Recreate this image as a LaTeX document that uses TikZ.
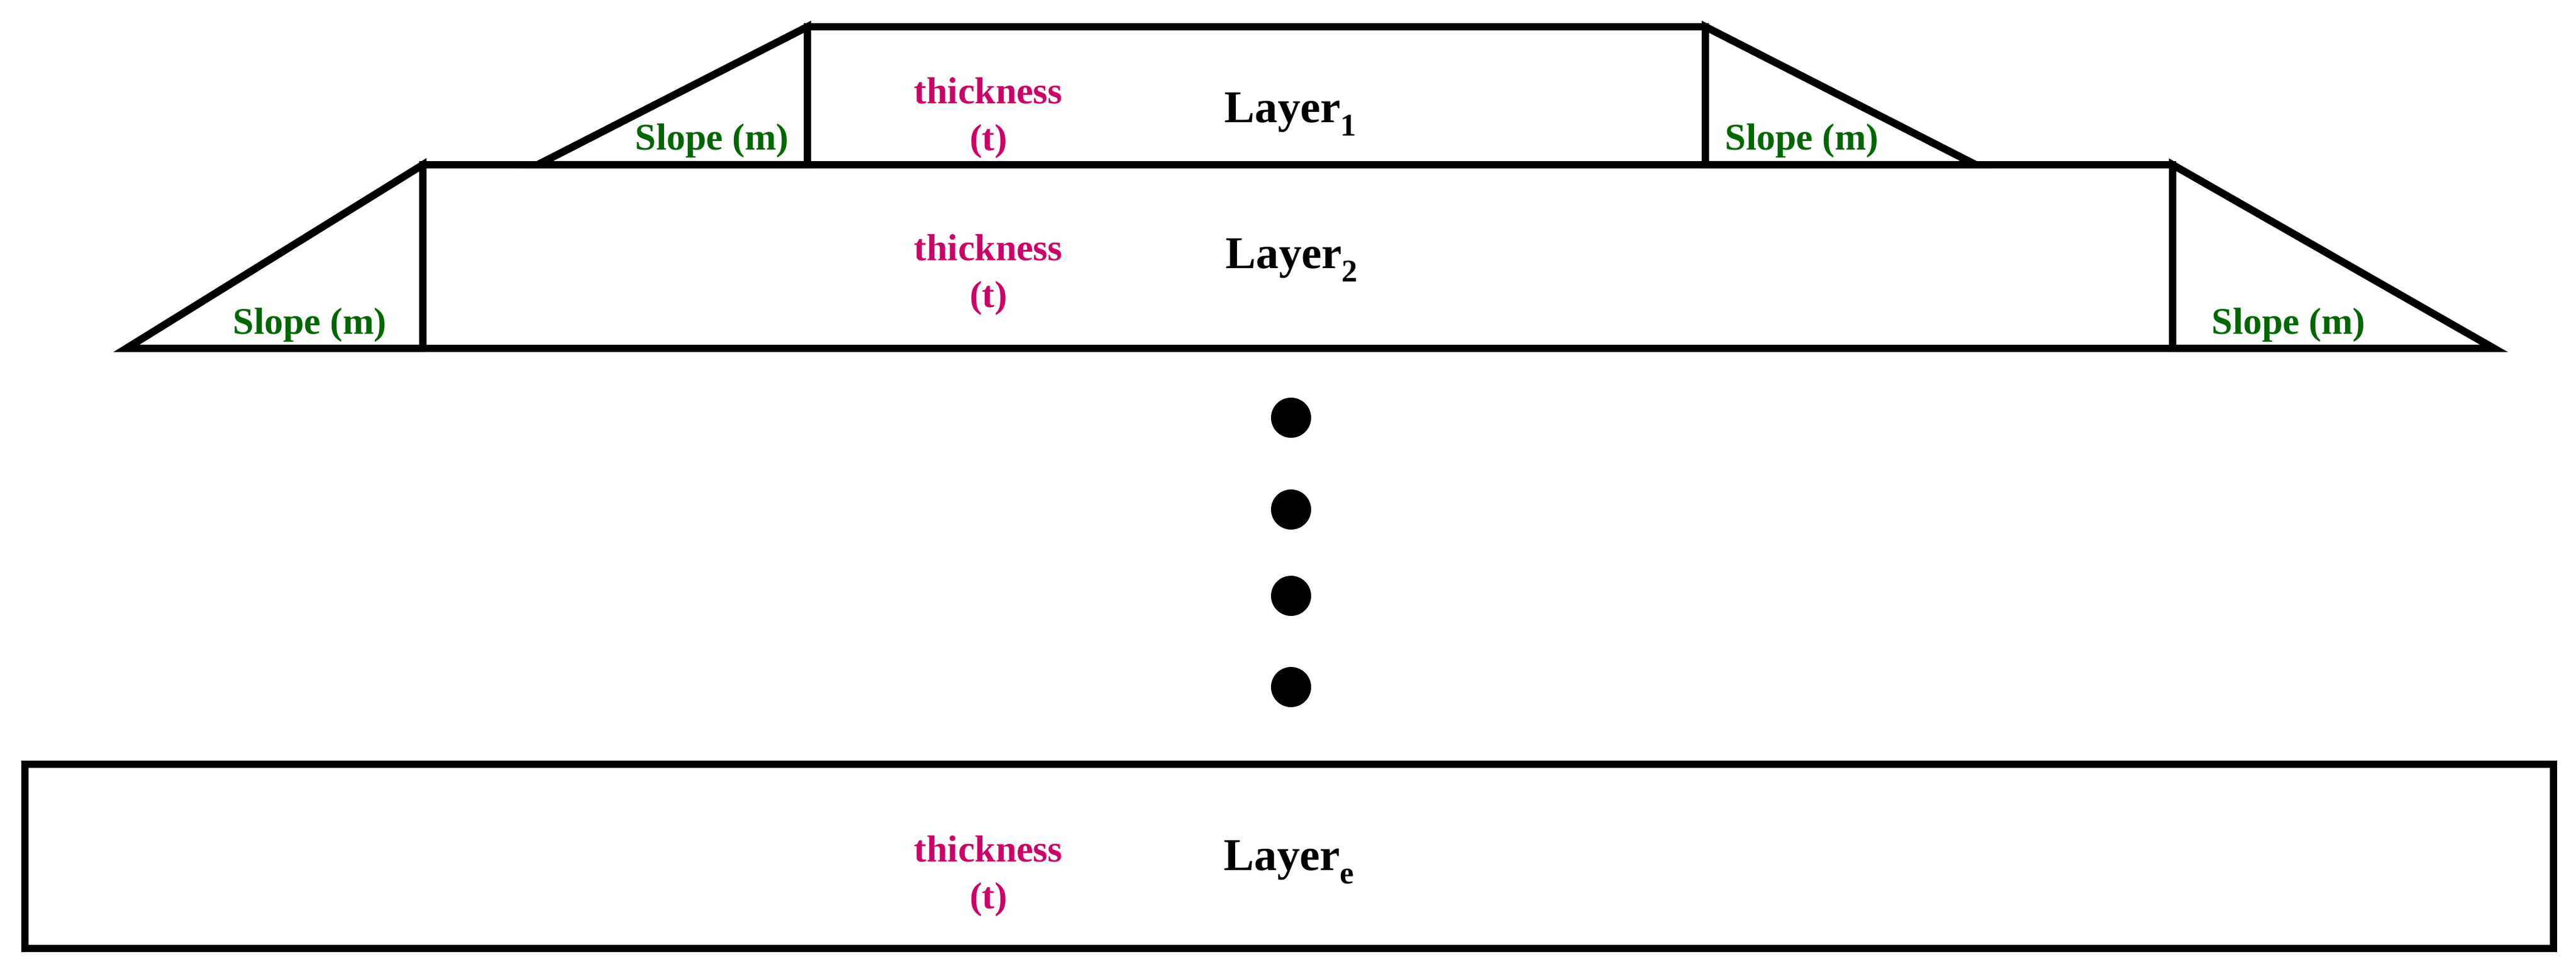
\documentclass[tikz,border=0pt]{standalone}
\usepackage{fontspec}
\setmainfont{Liberation Serif}
\usepackage{tikz}
\usetikzlibrary{positioning}

\definecolor{slopegreen}{RGB}{0,102,0}
\definecolor{thickpink}{RGB}{204,0,102}

\newcommand{\lsub}[1]{\raisebox{-0.30em}{\fontsize{14.8}{15}\selectfont #1}}

\tikzset{
  layerline/.style={draw=black, line width=3.5pt, line join=miter},
  layername/.style={anchor=base west, inner sep=0pt, font=\fontsize{21.3}{25}\selectfont\bfseries},
  thicklabel/.style={anchor=base, inner sep=0pt, text=thickpink, font=\fontsize{17.6}{21}\selectfont\bfseries},
  slopelabel/.style={anchor=base, inner sep=0pt, text=slopegreen, font=\fontsize{17.6}{21}\selectfont\bfseries}
}

\begin{document}
\begin{tikzpicture}[x=1cm, y=-1cm]
      \useasboundingbox (0,0) rectangle (42.40,16.01);
      % layer 1 and its slopes
      \draw[layerline] (8.85,2.71) -- (13.29,0.44) -- (13.29,2.71) -- cycle;
      \draw[layerline] (28.07,0.44) -- (32.52,2.71) -- (28.07,2.71) -- cycle;
      \draw[layerline] (13.29,0.44) rectangle (28.07,2.71);
      % layer 2 and its slopes
      \draw[layerline] (2.08,5.73) -- (6.96,2.71) -- (6.96,5.73) -- cycle;
      \draw[layerline] (35.76,2.71) -- (41.05,5.73) -- (35.76,5.73) -- cycle;
      \draw[layerline] (6.96,2.71) rectangle (35.76,5.73);
      % last layer
      \draw[layerline] (0.41,12.57) rectangle (42.03,15.60);
      % dots in between
      \foreach \y in {6.87, 8.38, 9.80, 11.30}
      \fill[black] (21.25,\y) circle (0.33);
      \node[layername] (name1) at (20.15, 2.01) {Layer\lsub{1}};
      \node[layername] (name2) at (20.17, 4.41) {Layer\lsub{2}};
      \node[layername] (namee) at (20.14, 14.31) {Layer\lsub{e}};
      \node[thicklabel] (thick1) at (16.27, 1.70) {thickness};
      \node[thicklabel] (tee1) at (16.27, 2.47) {(t)};
      \node[thicklabel] (thick2) at (16.27, 4.28) {thickness};
      \node[thicklabel] (tee2) at (16.27, 5.05) {(t)};
      \node[thicklabel] (thicke) at (16.27, 14.17) {thickness};
      \node[thicklabel] (teee) at (16.27, 14.94) {(t)};
      \node[slopelabel] (slope1l) at (11.72, 2.46) {Slope (m)};
      \node[slopelabel] (slope1r) at (29.66, 2.46) {Slope (m)};
      \node[slopelabel] (slope2l) at (5.10, 5.49) {Slope (m)};
      \node[slopelabel] (slope2r) at (37.67, 5.49) {Slope (m)};
    \end{tikzpicture}
\end{document}
